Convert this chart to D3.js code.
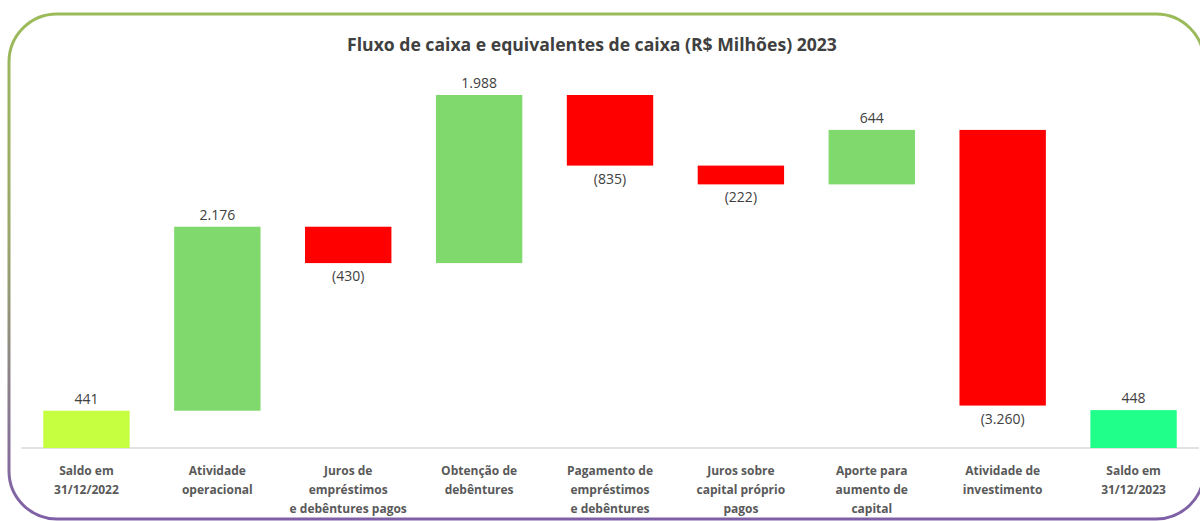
<!DOCTYPE html>
<html>
<head>
<meta charset="utf-8">
<script src="https://cdn.jsdelivr.net/npm/d3@7"></script>
<style>
  body { margin: 0; background: #fff; }
  svg { display: block; }
</style>
</head>
<body>
<div id="chart"></div>
<script>
var w = 1200;
var h = 521;

var categories = [
  ["Saldo em", "31/12/2022"],
  ["Atividade", "operacional"],
  ["Juros de", "empréstimos", "e debêntures pagos"],
  ["Obtenção de", "debêntures"],
  ["Pagamento de", "empréstimos", "e debêntures"],
  ["Juros sobre", "capital próprio", "pagos"],
  ["Aporte para", "aumento de", "capital"],
  ["Atividade de", "investimento"],
  ["Saldo em", "31/12/2023"]
];
var values = [441, 2176, -430, 1988, -835, -222, 644, -3260, 448];
// "total" bars start at zero, "step" bars float on the running sum
var kinds = ["total", "step", "step", "step", "step", "step", "step", "step", "total"];

var colors = {
  first: "#c6ff40",
  up: "#80d96c",
  down: "#ff0000",
  last: "#20ff8a"
};

// running sum for the floating bars
var run = 0;
var bars = values.map(function(v, i) {
  var b;
  if (kinds[i] == "total") {
    b = { i: i, y0: 0, y1: v, v: v };
    run = v;
  } else {
    b = { i: i, y0: run, y1: run + v, v: v };
    run = run + v;
  }
  return b;
});

var svg = d3.select("#chart")
  .append("svg")
  .attr("width", w)
  .attr("height", h);

// rounded frame, green on top fading to purple at the bottom
var grad = svg.append("defs").append("linearGradient")
  .attr("id", "frame")
  .attr("x1", 0).attr("y1", 0)
  .attr("x2", 0).attr("y2", 1);
grad.append("stop").attr("offset", "0%").attr("stop-color", "#9bbb59");
grad.append("stop").attr("offset", "45%").attr("stop-color", "#9aa66a");
grad.append("stop").attr("offset", "100%").attr("stop-color", "#7f5fa8");

svg.append("rect")
  .attr("x", 9)
  .attr("y", 14)
  .attr("width", 1195)
  .attr("height", 505)
  .attr("rx", 48)
  .attr("ry", 48)
  .attr("fill", "none")
  .attr("stroke", "url(#frame)")
  .attr("stroke-width", 3);

svg.append("text")
  .attr("x", 592)
  .attr("y", 51)
  .attr("text-anchor", "middle")
  .attr("font-family", "'Open Sans', sans-serif")
  .attr("font-weight", "bold")
  .attr("font-size", "17.6px")
  .attr("fill", "#404040")
  .text("Fluxo de caixa e equivalentes de caixa (R$ Milhões) 2023");

var xScale = d3.scaleBand()
  .domain(d3.range(categories.length))
  .range([21, 1199])
  .paddingInner(0.34)
  .paddingOuter(0.17);

var yScale = d3.scaleLinear()
  .domain([0, 5000])
  .range([448, 448 - 5000 * 0.08455]);

// baseline
svg.append("line")
  .attr("x1", 21)
  .attr("x2", 1199)
  .attr("y1", yScale(0))
  .attr("y2", yScale(0))
  .attr("stroke", "#d9d9d9")
  .attr("stroke-width", 1.5);

function barColor(d) {
  if (d.i == 0) return colors.first;
  if (d.i == values.length - 1) return colors.last;
  return d.v >= 0 ? colors.up : colors.down;
}

svg.selectAll("rect.bar")
  .data(bars)
  .enter()
  .append("rect")
  .attr("class", "bar")
  .attr("x", function(d) { return xScale(d.i); })
  .attr("width", xScale.bandwidth())
  .attr("y", function(d) { return yScale(Math.max(d.y0, d.y1)); })
  .attr("height", function(d) { return Math.abs(yScale(d.y0) - yScale(d.y1)); })
  .attr("fill", barColor);

var fmt = d3.formatLocale({ decimal: ",", thousands: ".", grouping: [3], currency: ["R$", ""] }).format(",d");

svg.selectAll("text.val")
  .data(bars)
  .enter()
  .append("text")
  .attr("class", "val")
  .attr("x", function(d) { return xScale(d.i) + xScale.bandwidth() / 2; })
  .attr("y", function(d) {
    if (d.v >= 0) return yScale(d.y1) - 7;
    return yScale(d.y1) + 18;
  })
  .attr("text-anchor", "middle")
  .attr("font-family", "'Open Sans', sans-serif")
  .attr("font-size", "14px")
  .attr("fill", "#404040")
  .text(function(d) {
    return d.v >= 0 ? fmt(d.v) : "(" + fmt(-d.v) + ")";
  });

// category labels under the baseline
var cat = svg.selectAll("text.cat")
  .data(categories)
  .enter()
  .append("text")
  .attr("class", "cat")
  .attr("x", function(d, i) { return xScale(i) + xScale.bandwidth() / 2; })
  .attr("y", 475)
  .attr("text-anchor", "middle")
  .attr("font-family", "'Open Sans', sans-serif")
  .attr("font-weight", "bold")
  .attr("font-size", "12px")
  .attr("fill", "#595959");

cat.selectAll("tspan")
  .data(function(d) { return d; })
  .enter()
  .append("tspan")
  .attr("x", function() { return d3.select(this.parentNode).attr("x"); })
  .attr("dy", function(d, j) { return j == 0 ? 0 : 19; })
  .text(function(d) { return d; });
</script>
</body>
</html>
